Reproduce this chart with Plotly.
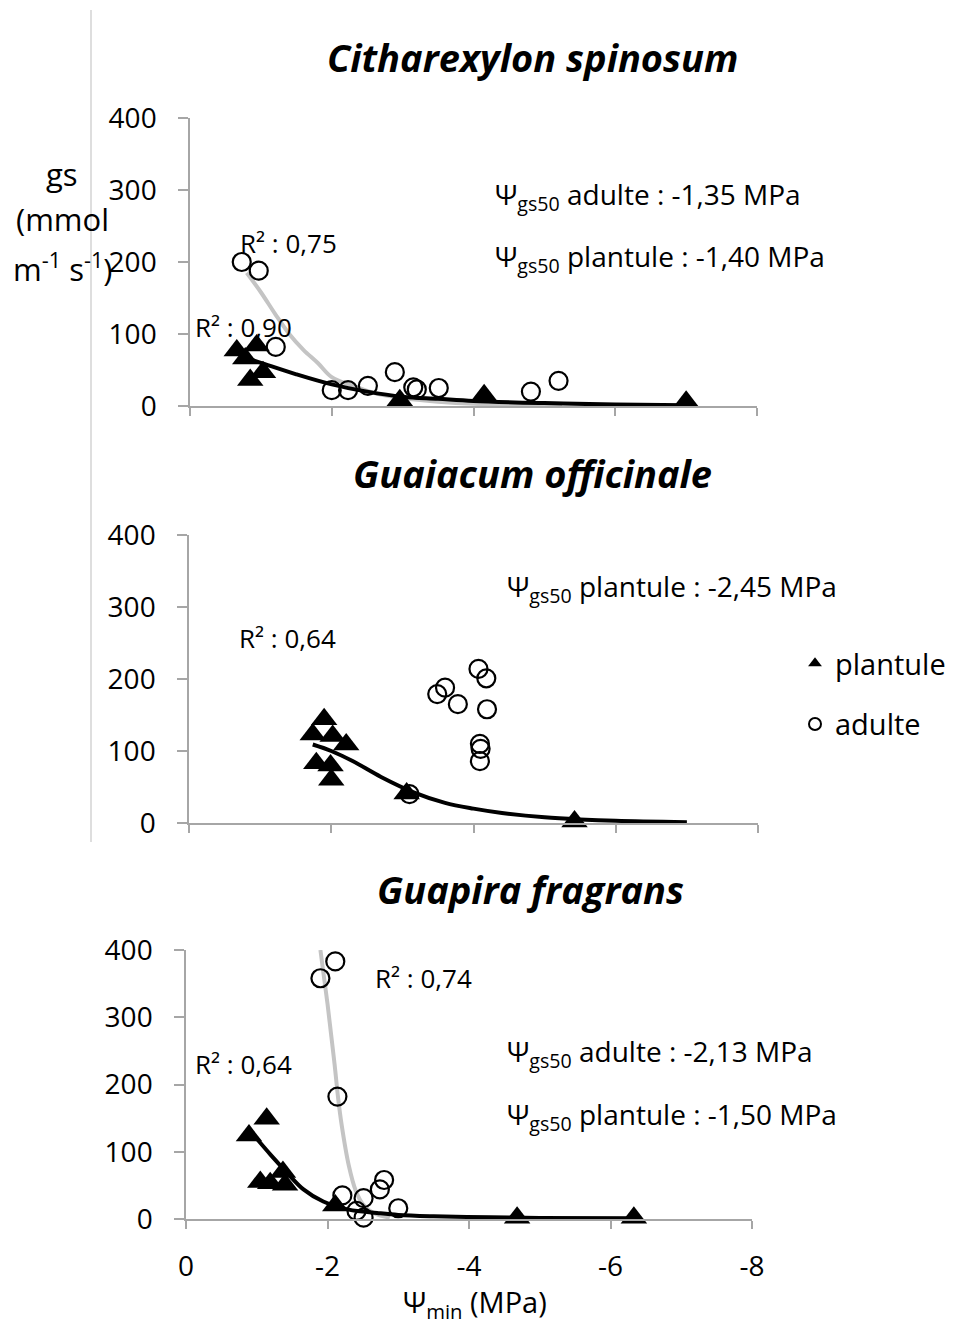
import plotly.graph_objects as go

# page body has an 8px margin: figure is drawn 8px in from the page corner
OFF = 8
W, H = 954 - OFF, 1327 - OFF
FONT = "Open Sans"

# ---------------- data ----------------
# Citharexylon spinosum
cs_plantule_x = [-0.66, -0.78, -0.94, -0.85, -1.03, -2.96, -4.15, -7.0]
cs_plantule_y = [77, 66, 84, 36, 47, 8, 15, 6]
cs_adulte_x = [-0.73, -0.97, -1.21, -2.0, -2.23, -2.51, -2.89, -3.15, -3.2, -3.51, -4.81, -5.2]
cs_adulte_y = [200, 188, 82, 22, 22, 28, 47, 26, 23, 25, 20, 35]
cs_fit_plantule_x = [-0.75, -1.0, -1.5, -2.0, -2.5, -3.0, -3.5, -4.0, -5.0, -6.0, -7.0]
cs_fit_plantule_y = [68, 60, 44, 30, 20, 13, 10, 7, 4, 2, 1]
cs_fit_adulte_x = [-0.8, -1.0, -1.2, -1.4, -1.6, -1.8, -2.0, -2.3, -2.6, -3.0, -3.5, -4.0, -4.5, -5.25]
cs_fit_adulte_y = [185, 158, 128, 100, 78, 60, 40, 28, 18, 11, 6, 3, 2, 1]

# Guaiacum officinale
go_plantule_x = [-1.90, -1.74, -2.02, -2.21, -1.79, -1.99, -2.0, -3.06, -5.42]
go_plantule_y = [144, 123, 121, 109, 83, 80, 60, 41, 2]
go_adulte_x = [-4.07, -4.18, -3.60, -3.49, -3.78, -4.19, -4.09, -4.10, -4.09, -3.10]
go_adulte_y = [214, 201, 188, 179, 165, 158, 110, 103, 86, 40]
go_fit_plantule_x = [-1.74, -2.0, -2.3, -2.7, -3.15, -3.6, -4.0, -4.4, -5.0, -5.5, -6.0, -7.0]
go_fit_plantule_y = [109, 100, 86, 64, 43, 28, 20, 14, 8, 5, 3, 1]

# Guapira fragrans
gf_plantule_x = [-0.89, -1.14, -1.05, -1.19, -1.37, -1.40, -2.11, -4.68, -6.33]
gf_plantule_y = [124, 149, 55, 53, 70, 51, 20, 2, 2]
gf_adulte_x = [-1.90, -2.11, -2.14, -2.21, -2.41, -2.51, -2.51, -2.74, -2.80, -3.0]
gf_adulte_y = [358, 383, 182, 35, 12, 31, 2, 44, 58, 16]
gf_fit_plantule_x = [-0.97, -1.2, -1.4, -1.66, -1.94, -2.3, -2.7, -3.0, -3.5, -4.3, -5.0, -6.35]
gf_fit_plantule_y = [123, 95, 72, 44, 26, 14, 9, 6, 4, 2.5, 1.5, 1]
gf_fit_adulte_x = [-1.90, -1.95, -2.0, -2.05, -2.1, -2.15, -2.2, -2.3, -2.4, -2.5, -2.65, -2.88]
gf_fit_adulte_y = [400, 360, 320, 275, 230, 180, 140, 80, 42, 22, 9, 2]

titles = ["Citharexylon spinosum", "Guaiacum officinale", "Guapira fragrans"]
x_ticks = [0, -2, -4, -6, -8]
x_ticklabels = ["0", "-2", "-4", "-6", "-8"]
y_ticks = [0, 100, 200, 300, 400]
y_ticklabels = ["0", "100", "200", "300", "400"]

# ---------------- layout helpers ----------------
def px(x):
    return (x - OFF) / W

def py(y):
    return 1 - (y - OFF) / H

# pixel boxes (page coords) of the three plot areas: (left, right, top, bottom)
boxes = [(190, 757, 118, 406), (189, 758, 535, 823), (186, 752, 950, 1219)]

fig = go.Figure()

GRAY_LINE = "#c4c4c4"
AXIS_COL = "#a6a6a6"

def add_panel(i, fits, plantule, adulte):
    xa = "x" if i == 0 else f"x{i+1}"
    ya = "y" if i == 0 else f"y{i+1}"
    for fx, fy, col in fits:
        fig.add_trace(go.Scatter(x=fx, y=fy, mode="lines", xaxis=xa, yaxis=ya,
                                 line=dict(color=col, width=4, shape="spline", smoothing=1.0),
                                 showlegend=False, hoverinfo="skip", cliponaxis=False))
    fig.add_trace(go.Scatter(x=adulte[0], y=adulte[1], mode="markers", xaxis=xa, yaxis=ya,
                             name="adulte", legendgroup="adulte", showlegend=(i == 1),
                             legendrank=2,
                             marker=dict(symbol="circle-open", size=18, color="black",
                                         line=dict(width=2.2, color="black")),
                             cliponaxis=False))
    fig.add_trace(go.Scatter(x=plantule[0], y=plantule[1], mode="markers", xaxis=xa, yaxis=ya,
                             name="plantule", legendgroup="plantule", showlegend=(i == 1),
                             legendrank=1,
                             marker=dict(symbol="triangle-up", size=23, color="black"),
                             cliponaxis=False))

add_panel(0,
          [(cs_fit_adulte_x, cs_fit_adulte_y, GRAY_LINE), (cs_fit_plantule_x, cs_fit_plantule_y, "black")],
          (cs_plantule_x, cs_plantule_y), (cs_adulte_x, cs_adulte_y))
add_panel(1,
          [(go_fit_plantule_x, go_fit_plantule_y, "black")],
          (go_plantule_x, go_plantule_y), (go_adulte_x, go_adulte_y))
add_panel(2,
          [(gf_fit_adulte_x, gf_fit_adulte_y, GRAY_LINE), (gf_fit_plantule_x, gf_fit_plantule_y, "black")],
          (gf_plantule_x, gf_plantule_y), (gf_adulte_x, gf_adulte_y))

axis_common = dict(showline=True, linecolor=AXIS_COL, linewidth=1.5, showgrid=False,
                   zeroline=False, ticks="outside", tickcolor=AXIS_COL, tickwidth=1.5,
                   automargin=False, tickfont=dict(family=FONT, size=28, color="black"))

layout_axes = {}
for i, (l, r, t, b) in enumerate(boxes):
    sx = "xaxis" if i == 0 else f"xaxis{i+1}"
    sy = "yaxis" if i == 0 else f"yaxis{i+1}"
    ya = "y" if i == 0 else f"y{i+1}"
    xa = "x" if i == 0 else f"x{i+1}"
    layout_axes[sx] = dict(axis_common, domain=[px(l), px(r)], range=[0, -8],
                           tickvals=x_ticks, ticktext=x_ticklabels, ticklen=8,
                           showticklabels=(i == 2), ticklabelstandoff=14, anchor=ya)
    layout_axes[sy] = dict(axis_common, domain=[py(b), py(t)], range=[0, 400],
                           tickvals=y_ticks, ticktext=y_ticklabels, ticklen=10,
                           ticklabelstandoff=16, anchor=xa)

fig.update_layout(**layout_axes)

ann = []
def text(x, y, s, size=28, xanchor="left", **kw):
    ann.append(dict(x=px(x), y=py(y), xref="paper", yref="paper", text=s, showarrow=False,
                    xanchor=xanchor, yanchor="middle",
                    font=dict(family=FONT, size=size, color="black"), **kw))

# titles
title_pos = [(532, 57), (532, 473), (530, 889)]
for (tx, ty), s in zip(title_pos, titles):
    text(tx, ty, f"<b><i>{s}</i></b>", size=38, xanchor="center")

PSI = "Ψ<sub>gs50</sub>"
text(493, 196, f"{PSI} adulte : -1,35 MPa")
text(493, 258, f"{PSI} plantule : -1,40 MPa")
text(238, 243, "R² : 0,75", size=26)
text(193, 327, "R² : 0,90", size=26)

text(505, 588, f"{PSI} plantule : -2,45 MPa")
text(237, 638, "R² : 0,64", size=26)

text(505, 1053, f"{PSI} adulte : -2,13 MPa")
text(505, 1116, f"{PSI} plantule : -1,50 MPa")
text(373, 978, "R² : 0,74", size=26)
text(193, 1064, "R² : 0,64", size=26)

# y-axis title (three lines)
text(62, 174, "gs", size=31, xanchor="center")
text(62, 219, "(mmol", size=31, xanchor="center")
text(62, 267, "m<sup>-1</sup> s<sup>-1</sup>)", size=31, xanchor="center")

# x-axis title
text(475, 1303, "Ψ<sub>min</sub> (MPa)", size=29, xanchor="center")

fig.update_layout(
    annotations=ann,
    width=W, height=H,
    margin=dict(l=0, r=0, t=0, b=0),
    paper_bgcolor="white", plot_bgcolor="white",
    font=dict(family=FONT, color="black"),
    showlegend=True,
    legend=dict(x=px(795), y=py(638), xanchor="left", yanchor="top",
                font=dict(family=FONT, size=29, color="black"),
                itemsizing="constant", tracegroupgap=20, bgcolor="rgba(0,0,0,0)"),
    shapes=[dict(type="line", xref="paper", yref="paper", x0=px(91), x1=px(91),
                 y0=py(10), y1=py(842), line=dict(color="#c8c8c8", width=1.2))],
)

fig.write_html("out.html")
